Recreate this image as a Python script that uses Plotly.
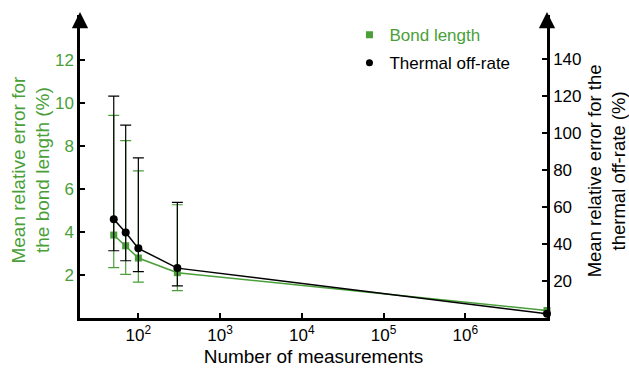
import plotly.graph_objects as go

GREEN = "#4a9f39"
FONT = "Liberation Sans, Arial, sans-serif"

n_meas = [50, 70, 100, 300, 1e7]

bond = [3.86, 3.36, 2.79, 2.11, 0.35]
bond_upper = [9.43, 8.25, 6.85, 5.27, 0.35]
bond_lower = [2.34, 2.03, 1.67, 1.27, 0.35]

offrate = [53.4, 46.3, 37.7, 27.0, 2.3]
offrate_upper = [120.1, 104.4, 86.7, 62.6, 2.3]
offrate_lower = [36.4, 31.0, 25.1, 17.4, 2.3]

xtick_vals = [1e2, 1e3, 1e4, 1e5, 1e6]
xtick_text = ["10<sup>2</sup>", "10<sup>3</sup>", "10<sup>4</sup>", "10<sup>5</sup>", "10<sup>6</sup>"]

fig = go.Figure()

fig.add_trace(go.Scatter(
    x=n_meas, y=bond, mode="lines+markers", yaxis="y",
    line=dict(color=GREEN, width=1.5),
    marker=dict(symbol="square", size=7, color=GREEN),
    error_y=dict(type="data", symmetric=False,
                 array=[u - v for u, v in zip(bond_upper, bond)],
                 arrayminus=[v - l for v, l in zip(bond, bond_lower)],
                 color=GREEN, thickness=1.2, width=5.5),
    showlegend=False, cliponaxis=False,
))
fig.add_trace(go.Scatter(
    x=n_meas, y=offrate, mode="lines+markers", yaxis="y2",
    line=dict(color="black", width=1.5),
    marker=dict(symbol="circle", size=8, color="black"),
    error_y=dict(type="data", symmetric=False,
                 array=[u - v for u, v in zip(offrate_upper, offrate)],
                 arrayminus=[v - l for v, l in zip(offrate, offrate_lower)],
                 color="black", thickness=1.2, width=5.5),
    showlegend=False, cliponaxis=False,
))
# legend entries (markers only)
fig.add_trace(go.Scatter(x=[None], y=[None], mode="markers", legendgroup="a",
                         marker=dict(symbol="square", size=7, color=GREEN),
                         name=f"<span style='color:{GREEN}'>Bond length</span>"))
fig.add_trace(go.Scatter(x=[None], y=[None], mode="markers", legendgroup="b",
                         marker=dict(symbol="circle", size=7, color="black"),
                         name="Thermal off-rate"))

fig.update_layout(
    width=629, height=370,
    margin=dict(l=80, r=82, t=15, b=52, autoexpand=False),
    paper_bgcolor="white", plot_bgcolor="white",
    font=dict(family=FONT, size=17, color="black"),
    xaxis=dict(type="log", range=[1.286, 7.0], showgrid=False, zeroline=False,
               automargin=False,
               showline=True, linecolor="black", linewidth=2.5,
               ticks="inside", ticklen=5, tickwidth=1.5, tickcolor="black",
               tickvals=xtick_vals, ticktext=xtick_text,
               tickfont=dict(size=17, color="black"),
               title=dict(text="Number of measurements", font=dict(size=19, color="black"), standoff=6)),
    yaxis=dict(range=[0, 14.1], showgrid=False, zeroline=False, automargin=False,
               showline=True, linecolor="black", linewidth=2.5,
               ticks="inside", ticklen=5, tickwidth=1.5, tickcolor="black",
               tickvals=[2, 4, 6, 8, 10, 12],
               tickfont=dict(size=17, color=GREEN)),
    yaxis2=dict(range=[0, 164], overlaying="y", side="right", showgrid=False, zeroline=False,
                automargin=False,
                showline=True, linecolor="black", linewidth=2.5,
                ticks="inside", ticklen=5, tickwidth=1.5, tickcolor="black",
                tickvals=[20, 40, 60, 80, 100, 120, 140],
                tickfont=dict(size=17, color="black")),
    legend=dict(x=0.577, y=0.993, xanchor="left", yanchor="top",
                font=dict(size=17), bgcolor="rgba(0,0,0,0)", itemwidth=30,
                tracegroupgap=3),
    annotations=[
        dict(x=0, y=1.01, xref="paper", yref="paper", showarrow=True, text="",
             ax=0, ay=12, arrowhead=2, arrowsize=1.3, arrowwidth=2.5, arrowcolor="black"),
        dict(x=1, y=1.01, xref="paper", yref="paper", showarrow=True, text="",
             ax=0, ay=12, arrowhead=2, arrowsize=1.3, arrowwidth=2.5, arrowcolor="black"),
        dict(x=-0.107, y=0.49, xref="paper", yref="paper", showarrow=False,
             text="Mean relative error for<br>the bond length (%)", textangle=-90,
             xanchor="center", yanchor="middle",
             font=dict(size=19, color=GREEN)),
        dict(x=1.127, y=0.485, xref="paper", yref="paper", showarrow=False,
             text="Mean relative error for the<br>thermal off-rate (%)", textangle=-90,
             xanchor="center", yanchor="middle",
             font=dict(size=18.5, color="black")),
    ],
)

fig.write_html("out.html", config={"displayModeBar": False},
               post_script="document.body.style.margin='0';")
